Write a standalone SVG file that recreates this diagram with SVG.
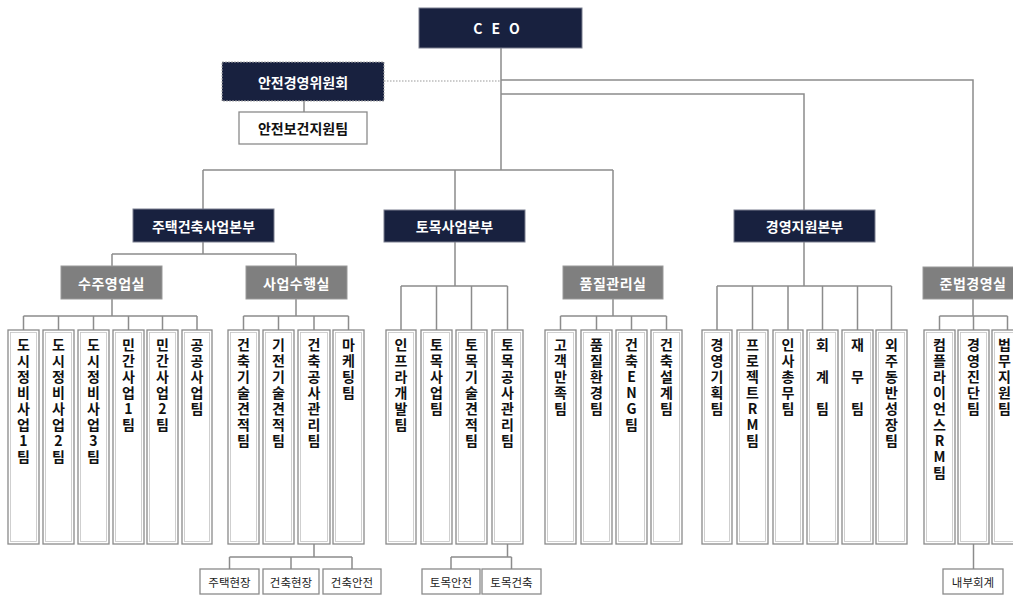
<svg xmlns="http://www.w3.org/2000/svg" width="1013" height="596" viewBox="0 0 1013 596">
<style>
.navy{fill:#18213f;stroke:#7a7f8f;stroke-width:1}
.gray{fill:#7f7f7f;stroke:#9a9a9a;stroke-width:1}
.hd{font-family:"Noto Sans CJK KR","Noto Sans",sans-serif;font-weight:bold;font-size:14px;fill:#fff;text-anchor:middle;dominant-baseline:central}
.wb{fill:#fff;stroke:#8a8a8a;stroke-width:1.3}
.wi{fill:none;stroke:#c4c4c4;stroke-width:0.8}
.tm{font-family:"Noto Sans CJK KR","Noto Sans",sans-serif;font-weight:bold;font-size:14px;fill:#111;text-anchor:middle;dominant-baseline:central}
.tv{font-family:"Noto Sans CJK KR","Noto Sans",sans-serif;font-weight:bold;font-size:14px;fill:#111;writing-mode:vertical-rl;text-orientation:upright;letter-spacing:2px}
.sp{letter-spacing:18px}
.sb{font-family:"Noto Sans CJK KR","Noto Sans",sans-serif;font-size:11.5px;fill:#222;text-anchor:middle;dominant-baseline:central}
.ln{fill:none;stroke:#8c8c8c;stroke-width:1.5}
</style>
<rect width="1013" height="596" fill="#fff"/>
<g id="connectors" class="ln">
<path d="M501 48V170M203 170H613M203 170V209M455 170V210M613 170V266"/>
<path d="M501 80H973V267M501 94H804V210"/>
<path d="M384 81H501" stroke-dasharray="1.5 1.5" stroke="#999" stroke-width="1.2"/>
<path d="M304 101V112"/>
<path d="M203 242V254M112 254H296M112 254V266M296 254V266"/>
<path d="M112 299V316M23.5 316H197M23.5 316V330M58.5 316V330M93.5 316V330M128.5 316V330M162.5 316V330M197 316V330"/>
<path d="M296 299V316M243.5 316H348.5M243.5 316V330M278.5 316V330M314 316V330M348.5 316V330"/>
<path d="M455 242V286M401 286H507.5M401 286V330M436.5 286V330M471.5 286V330M507.5 286V330"/>
<path d="M613 299V316M560.5 316H666.5M560.5 316V330M596.5 316V330M631.5 316V330M666.5 316V330"/>
<path d="M804 242V286M717 286H891.5M717 286V330M752.5 286V330M788 286V330M822.5 286V330M857.5 286V330M891.5 286V330"/>
<path d="M973 299V316M939.5 316H1007.5M939.5 316V330M973.5 316V330M1007.5 316V330"/>
<path d="M314 544V557M229.5 557H352M229.5 557V569M291 557V569M352 557V569"/>
<path d="M507.5 544V557M451 557H511.5M451 557V569M511.5 557V569"/>
<path d="M973.5 544V569"/>
</g>
<g id="ceo"><rect class="navy" x="419" y="8" width="163" height="40"/><text class="hd" x="501" y="28" letter-spacing="9">CEO</text></g>
<g id="safety-committee"><rect x="222" y="62" width="162" height="39" fill="#18213f" stroke="#aaa" stroke-width="1" stroke-dasharray="2 1"/><text class="hd" x="303" y="81.5" font-size="14.5">안전경영위원회</text></g>
<g id="safety-support"><rect x="239" y="112" width="128" height="32" fill="#fff" stroke="#8a8a8a" stroke-width="1.3"/><text class="tm" x="303" y="128" font-size="13">안전보건지원팀</text></g>
<g id="housing-hq"><rect class="navy" x="133" y="209" width="141" height="33"/><text class="hd" x="203.5" y="225.5">주택건축사업본부</text></g>
<g id="civil-hq"><rect class="navy" x="384" y="210" width="141" height="32"/><text class="hd" x="454.5" y="226">토목사업본부</text></g>
<g id="mgmt-hq"><rect class="navy" x="734" y="210" width="141" height="32"/><text class="hd" x="804.5" y="226">경영지원본부</text></g>
<g id="sales-office"><rect class="gray" x="61" y="266" width="101" height="33"/><text class="hd" x="111.5" y="282.5" letter-spacing="0.5">수주영업실</text></g>
<g id="exec-office"><rect class="gray" x="246" y="266" width="101" height="33"/><text class="hd" x="296.5" y="282.5" letter-spacing="0.5">사업수행실</text></g>
<g id="quality-office"><rect class="gray" x="563" y="266" width="100" height="33"/><text class="hd" x="613" y="282.5" letter-spacing="0.5">품질관리실</text></g>
<g id="compliance-office"><rect class="gray" x="923" y="267" width="100" height="32"/><text class="hd" x="973" y="283" letter-spacing="0.5">준법경영실</text></g>

<g id="t1"><rect class="wb" x="8" y="330" width="31" height="214"/><rect class="wi" x="10.5" y="332.5" width="26" height="209"/><text class="tv" x="23.5" y="338">도시정비사업1팀</text></g>
<g id="t2"><rect class="wb" x="43" y="330" width="31" height="214"/><rect class="wi" x="45.5" y="332.5" width="26" height="209"/><text class="tv" x="58.5" y="338">도시정비사업2팀</text></g>
<g id="t3"><rect class="wb" x="78" y="330" width="31" height="214"/><rect class="wi" x="80.5" y="332.5" width="26" height="209"/><text class="tv" x="93.5" y="338">도시정비사업3팀</text></g>
<g id="t4"><rect class="wb" x="113" y="330" width="31" height="214"/><rect class="wi" x="115.5" y="332.5" width="26" height="209"/><text class="tv" x="128.5" y="338">민간사업1팀</text></g>
<g id="t5"><rect class="wb" x="147" y="330" width="31" height="214"/><rect class="wi" x="149.5" y="332.5" width="26" height="209"/><text class="tv" x="162.5" y="338">민간사업2팀</text></g>
<g id="t6"><rect class="wb" x="182" y="330" width="30" height="214"/><rect class="wi" x="184.5" y="332.5" width="25" height="209"/><text class="tv" x="197" y="338">공공사업팀</text></g>

<g id="t7"><rect class="wb" x="228" y="330" width="31" height="214"/><rect class="wi" x="230.5" y="332.5" width="26" height="209"/><text class="tv" x="243.5" y="338">건축기술견적팀</text></g>
<g id="t8"><rect class="wb" x="263" y="330" width="31" height="214"/><rect class="wi" x="265.5" y="332.5" width="26" height="209"/><text class="tv" x="278.5" y="338">기전기술견적팀</text></g>
<g id="t9"><rect class="wb" x="298" y="330" width="32" height="214"/><rect class="wi" x="300.5" y="332.5" width="27" height="209"/><text class="tv" x="314" y="338">건축공사관리팀</text></g>
<g id="t10"><rect class="wb" x="333" y="330" width="31" height="214"/><rect class="wi" x="335.5" y="332.5" width="26" height="209"/><text class="tv" x="348.5" y="338">마케팅팀</text></g>

<g id="t11"><rect class="wb" x="386" y="330" width="30" height="214"/><rect class="wi" x="388.5" y="332.5" width="25" height="209"/><text class="tv" x="401" y="338">인프라개발팀</text></g>
<g id="t12"><rect class="wb" x="421" y="330" width="31" height="214"/><rect class="wi" x="423.5" y="332.5" width="26" height="209"/><text class="tv" x="436.5" y="338">토목사업팀</text></g>
<g id="t13"><rect class="wb" x="456" y="330" width="31" height="214"/><rect class="wi" x="458.5" y="332.5" width="26" height="209"/><text class="tv" x="471.5" y="338">토목기술견적팀</text></g>
<g id="t14"><rect class="wb" x="492" y="330" width="31" height="214"/><rect class="wi" x="494.5" y="332.5" width="26" height="209"/><text class="tv" x="507.5" y="338">토목공사관리팀</text></g>

<g id="t15"><rect class="wb" x="545" y="330" width="31" height="214"/><rect class="wi" x="547.5" y="332.5" width="26" height="209"/><text class="tv" x="560.5" y="338">고객만족팀</text></g>
<g id="t16"><rect class="wb" x="581" y="330" width="31" height="214"/><rect class="wi" x="583.5" y="332.5" width="26" height="209"/><text class="tv" x="596.5" y="338">품질환경팀</text></g>
<g id="t17"><rect class="wb" x="616" y="330" width="31" height="214"/><rect class="wi" x="618.5" y="332.5" width="26" height="209"/><text class="tv" x="631.5" y="338">건축ENG팀</text></g>
<g id="t18"><rect class="wb" x="651" y="330" width="31" height="214"/><rect class="wi" x="653.5" y="332.5" width="26" height="209"/><text class="tv" x="666.5" y="338">건축설계팀</text></g>

<g id="t19"><rect class="wb" x="702" y="330" width="30" height="214"/><rect class="wi" x="704.5" y="332.5" width="25" height="209"/><text class="tv" x="717" y="338">경영기획팀</text></g>
<g id="t20"><rect class="wb" x="737" y="330" width="31" height="214"/><rect class="wi" x="739.5" y="332.5" width="26" height="209"/><text class="tv" x="752.5" y="338">프로젝트RM팀</text></g>
<g id="t21"><rect class="wb" x="773" y="330" width="30" height="214"/><rect class="wi" x="775.5" y="332.5" width="25" height="209"/><text class="tv" x="788" y="338">인사총무팀</text></g>
<g id="t22"><rect class="wb" x="807" y="330" width="31" height="214"/><rect class="wi" x="809.5" y="332.5" width="26" height="209"/><text class="tv sp" x="822.5" y="338">회계팀</text></g>
<g id="t23"><rect class="wb" x="842" y="330" width="31" height="214"/><rect class="wi" x="844.5" y="332.5" width="26" height="209"/><text class="tv sp" x="857.5" y="338">재무팀</text></g>
<g id="t24"><rect class="wb" x="876" y="330" width="31" height="214"/><rect class="wi" x="878.5" y="332.5" width="26" height="209"/><text class="tv" x="891.5" y="338">외주동반성장팀</text></g>

<g id="t25"><rect class="wb" x="924" y="330" width="31" height="214"/><rect class="wi" x="926.5" y="332.5" width="26" height="209"/><text class="tv" x="939.5" y="338">컴플라이언스RM팀</text></g>
<g id="t26"><rect class="wb" x="958" y="330" width="31" height="214"/><rect class="wi" x="960.5" y="332.5" width="26" height="209"/><text class="tv" x="973.5" y="338">경영진단팀</text></g>
<g id="t27"><rect class="wb" x="992" y="330" width="31" height="214"/><rect class="wi" x="994.5" y="332.5" width="26" height="209"/><text class="tv" x="1004.5" y="338">법무지원팀</text></g>

<g id="s1"><rect class="wb" x="200" y="569" width="59" height="25"/><text class="sb" x="229.5" y="581.5">주택현장</text></g>
<g id="s2"><rect class="wb" x="263" y="569" width="56" height="25"/><text class="sb" x="291" y="581.5">건축현장</text></g>
<g id="s3"><rect class="wb" x="323" y="569" width="58" height="25"/><text class="sb" x="352" y="581.5">건축안전</text></g>
<g id="s4"><rect class="wb" x="422" y="569" width="58" height="25"/><text class="sb" x="451" y="581.5">토목안전</text></g>
<g id="s5"><rect class="wb" x="482" y="569" width="59" height="25"/><text class="sb" x="511.5" y="581.5">토목건축</text></g>
<g id="s6"><rect class="wb" x="943" y="569" width="60" height="25"/><text class="sb" x="973" y="581.5">내부회계</text></g>
</svg>
